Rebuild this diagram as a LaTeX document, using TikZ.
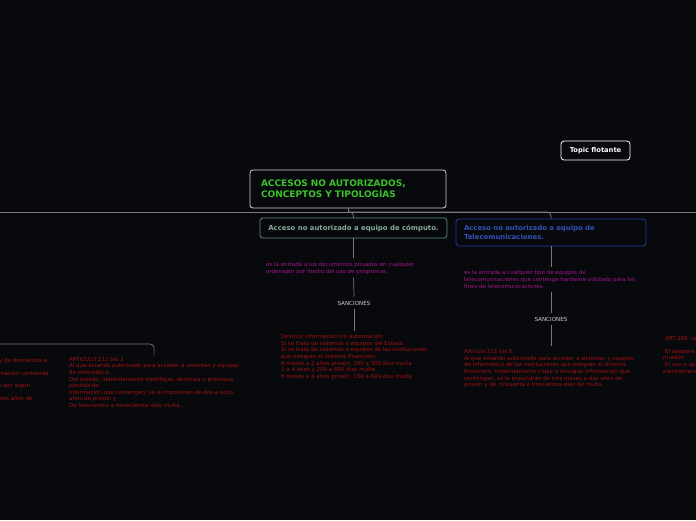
\documentclass[tikz,border=0pt]{standalone}
\usepackage{fontspec}
\setmainfont{DejaVu Sans}
\usetikzlibrary{positioning}
\definecolor{fondo}{HTML}{07090C}
\definecolor{marco}{HTML}{CFCFCF}
\definecolor{verde}{HTML}{3BC42A}
\definecolor{compu}{HTML}{5A8C7C}
\definecolor{compt}{HTML}{86AC9C}
\definecolor{tele}{HTML}{1E3EA0}
\definecolor{telet}{HTML}{3252B8}
\definecolor{magen}{HTML}{A4168F}
\definecolor{ley}{HTML}{A01212}
\definecolor{linea}{HTML}{7A7A7A}

\begin{document}
\begin{tikzpicture}[x=1pt, y=-1pt,
    topic/.style={draw, rounded corners=3pt, line width=0.8pt, font=\fontsize{6.9}{9}\selectfont\bfseries},
    desc/.style={anchor=north west, inner sep=0pt, align=left, text=magen, font=\fontsize{5.5}{7}\selectfont},
    ley/.style={anchor=north west, inner sep=0pt, align=left, text=ley, font=\fontsize{5.5}{6.6}\selectfont},
    sanc/.style={inner sep=4pt, text=marco, font=\fontsize{5.6}{6}\selectfont},
    link/.style={draw=linea, line width=0.7pt}
  ]
  \useasboundingbox (0,0) rectangle (696,520);
  \fill[fondo] (0,0) rectangle (696,520);
  \clip (0,0) rectangle (696,520);

  % topics
  \node[topic, draw=marco, text=verde, font=\fontsize{9}{11}\selectfont\bfseries, text width=174pt, inner xsep=11pt, minimum height=38pt, align=left] (raiz) at (348,189) {ACCESOS NO AUTORIZADOS,\\CONCEPTOS Y TIPOLOGÍAS};
  \node[topic, draw=compu, text=compt, minimum width=187pt, minimum height=20pt] (comp) at (353.5,228) {Acceso no autorizado a equipo de cómputo.};
  \node[topic, draw=tele, text=telet, text width=174pt, inner xsep=8pt, minimum height=27pt, align=left] (tele) at (551,232.5) {Acceso no autorizado a equipo de\\Telecomunicaciones.};
  \node[topic, draw=white, text=white, font=\fontsize{6.7}{7}\selectfont\bfseries, minimum width=69pt, minimum height=19pt] (flot) at (595.5,150.5) {Topic flotante};

  % rama computo
  \node[desc] (d1) at (266,262) {es la entrada a los documentos privados en cualquier\\ordenador por medio del uso de programas.};
  \node[sanc] (s1) at (354,303) {SANCIONES};
  \node[ley] (r1) at (281,334) {Destruir información sin autorización\\Si se trata de sistemas o equipos del Estado\\Si se trata de sistemas o equipos de las instituciones\\que integran el sistema financiero\\6 meses a 2 años prisión, 100 a 300 días multa\\1 a 4 años y 200 a 600 días multa\\6 meses a 4 años prisión, 100 a 600 días multa};

  % rama telecomunicaciones
  \node[desc] (d2) at (464,270) {es la entrada a cualquier tipo de equipos de\\telecomunicaciones que contenga hardware utilizado para los\\fines de telecomunicaciones.};
  \node[sanc] (s2) at (551,319) {SANCIONES};
  \node[ley] (r2) at (464,349) {Artículo 211 bis 5.\\Al que estando autorizado para acceder a sistemas y equipos\\de informática de las instituciones que integran el sistema\\financiero, indebidamente copie o divulgue información que\\contengan, se le impondrán de tres meses a dos años de\\prisión y de cincuenta a trescientos días de multa.};

  % bloques laterales
  \node[ley, font=\fontsize{5.5}{12.7}\selectfont] (l1) at (-1,358) {y de doscientos a\\mación contenida\\s por algún\\dos años de};
  \node[ley] (l2) at (69,357) {ARTICULO 211 bis 3\\Al que estando autorizado para acceder a sistemas y equipos\\de informática\\Del estado, indebidamente modifique, destruya o provoque\\perdida de\\Información que contengan, se le impondrán de dos a ocho\\años de prisión y\\De trescientos a novecientos días multa.};
  \node[ley] (a1) at (665,336) {ART.368. se};
  \node[ley] (a2) at (663,349) {-El apodera\\mueble\\-El uso o ap\\electromeca};

  % conectores
  \coordinate (izq) at (0,212);
  \coordinate (der) at (696,212);
  \coordinate (nudo) at (348,212);
  \coordinate (ramaizq) at (0,344);
  \draw[link] (izq) -- (der);
  \draw[link] (raiz.south) -- (nudo);
  \draw[link, rounded corners=4pt] (nudo) -| (comp.north);
  \draw[link, rounded corners=4pt] (nudo) -| (tele.north);
  \draw[link, rounded corners=4pt, shorten >=2pt] (ramaizq) -| (l2.north);

  \draw[link, shorten >=4pt] (comp.south) -- (comp.south |- d1.north);
  \draw[link, shorten <=3pt] (comp.south |- d1.south) -- (s1.north);
  \draw[link, shorten >=3pt] (s1.south) -- (s1.south |- r1.north);

  \draw[link, shorten >=3pt] (tele.south) -- (tele.south |- d2.north);
  \draw[link, shorten <=3pt] (tele.south |- d2.south) -- (s2.north);
  \draw[link, shorten >=3pt] (s2.south) -- (s2.south |- r2.north);
\end{tikzpicture}
\end{document}
